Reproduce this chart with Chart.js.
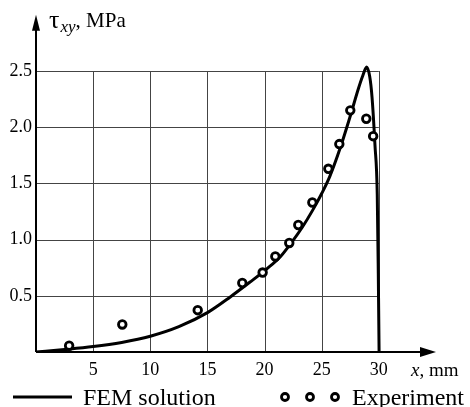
<!DOCTYPE html>
<html>
<head>
<meta charset="utf-8">
<script src="https://cdn.jsdelivr.net/npm/chart.js@4/dist/chart.umd.min.js"></script>
<style>
  html, body { margin: 0; padding: 0; background: #fff; }
  #wrap { width: 470px; height: 407px; }
</style>
</head>
<body>
<div id="wrap"><canvas id="tauChart"></canvas></div>
<script>
// FEM solution curve, x in mm, tau in MPa
const femX = [0, 2.5, 5, 7.5, 10, 12.5, 15, 17, 18.7, 20.2, 21.4, 22.4, 23.3, 24.2, 25, 25.7, 26.6, 27.5, 28.2, 28.6, 28.93, 29.2, 29.4, 29.66, 29.86, 29.95, 30.02];
const femY = [0, 0.022, 0.048, 0.085, 0.14, 0.225, 0.35, 0.49, 0.62, 0.74, 0.85, 0.98, 1.11, 1.26, 1.41, 1.56, 1.81, 2.1, 2.34, 2.46, 2.535, 2.45, 2.27, 1.84, 1.4, 0.7, 0];

// experiment points
const expX = [2.9, 7.55, 14.15, 18.05, 19.83, 20.94, 22.16, 22.95, 24.18, 25.58, 26.54, 27.5, 28.9, 29.5];
const expY = [0.056, 0.245, 0.372, 0.614, 0.707, 0.85, 0.97, 1.13, 1.33, 1.63, 1.85, 2.15, 2.075, 1.92];

// grid / tick positions
const xGridLines = [5, 10, 15, 20, 25, 30];
const yGridLines = [0.5, 1.0, 1.5, 2.0, 2.5];

const SERIF = "'Liberation Serif', 'Times New Roman', serif";
Chart.defaults.font.family = SERIF;
Chart.defaults.color = '#000';

// grid, axes with arrows, axis titles and the legend
const decorPlugin = {
    id: 'decor',
    beforeDatasetsDraw(chart) {
        const { ctx, scales: { x, y } } = chart;
        const x0 = x.getPixelForValue(0);
        const y0 = y.getPixelForValue(0);
        const xEnd = x.getPixelForValue(xGridLines[xGridLines.length - 1]);
        const yEnd = y.getPixelForValue(yGridLines[yGridLines.length - 1]);

        ctx.save();
        ctx.strokeStyle = '#444';
        ctx.lineWidth = 1;
        ctx.beginPath();
        xGridLines.forEach(v => {
            const px = Math.round(x.getPixelForValue(v)) + 0.5;
            ctx.moveTo(px, y0);
            ctx.lineTo(px, yEnd);
        });
        yGridLines.forEach(v => {
            const py = Math.round(y.getPixelForValue(v)) + 0.5;
            ctx.moveTo(x0, py);
            ctx.lineTo(xEnd, py);
        });
        ctx.stroke();

        // axes
        ctx.strokeStyle = '#000';
        ctx.fillStyle = '#000';
        ctx.lineWidth = 2;
        ctx.beginPath();
        ctx.moveTo(x0, y0);
        ctx.lineTo(x.right - 10, y0);
        ctx.moveTo(x0, y0);
        ctx.lineTo(x0, y.top + 10);
        ctx.stroke();

        // arrow heads
        ctx.beginPath();
        ctx.moveTo(x.right, y0);
        ctx.lineTo(x.right - 16, y0 - 5);
        ctx.lineTo(x.right - 16, y0 + 5);
        ctx.closePath();
        ctx.fill();
        ctx.beginPath();
        ctx.moveTo(x0, y.top);
        ctx.lineTo(x0 - 4, y.top + 16);
        ctx.lineTo(x0 + 4, y.top + 16);
        ctx.closePath();
        ctx.fill();
        ctx.restore();
    },
    afterDraw(chart) {
        const { ctx } = chart;
        ctx.save();
        ctx.fillStyle = '#000';
        ctx.textBaseline = 'alphabetic';
        ctx.textAlign = 'left';

        // y title: tau_xy, MPa
        let px = 49;
        ctx.font = '26px ' + SERIF;
        ctx.fillText('τ', px, 28);
        px += ctx.measureText('τ').width + 1;
        ctx.font = 'italic 17px ' + SERIF;
        ctx.fillText('xy', px, 32);
        px += ctx.measureText('xy').width;
        ctx.font = '21px ' + SERIF;
        ctx.fillText(', MPa', px, 27);

        // x title: x, mm
        px = 411;
        ctx.font = 'italic 19px ' + SERIF;
        ctx.fillText('x', px, 376);
        px += ctx.measureText('x').width;
        ctx.font = '19px ' + SERIF;
        ctx.fillText(', mm', px, 376);

        // legend
        ctx.strokeStyle = '#000';
        ctx.lineWidth = 3;
        ctx.beginPath();
        ctx.moveTo(13, 397);
        ctx.lineTo(72, 397);
        ctx.stroke();
        ctx.font = '24px ' + SERIF;
        ctx.fillText('FEM solution', 83, 405);

        ctx.lineWidth = 2.8;
        ctx.fillStyle = '#fff';
        [285, 310, 335].forEach(cx => {
            ctx.beginPath();
            ctx.arc(cx, 397, 3.5, 0, Math.PI * 2);
            ctx.fill();
            ctx.stroke();
        });
        ctx.fillStyle = '#000';
        ctx.fillText('Experiment', 352, 405);
        ctx.restore();
    }
};

const ctx = document.getElementById('tauChart').getContext('2d');
new Chart(ctx, {
    type: 'scatter',
    data: {
        datasets: [
            {
                label: 'Experiment',
                data: expX.map((v, i) => ({ x: v, y: expY[i] })),
                pointStyle: 'circle',
                pointRadius: 3.8,
                pointBorderWidth: 2.8,
                pointBorderColor: '#000',
                pointBackgroundColor: '#fff',
                showLine: false,
                order: 0
            },
            {
                label: 'FEM solution',
                data: femX.map((v, i) => ({ x: v, y: femY[i] })),
                showLine: true,
                borderColor: '#000',
                borderWidth: 3,
                pointRadius: 0,
                cubicInterpolationMode: 'monotone',
                order: 1
            }
        ]
    },
    options: {
        responsive: true,
        maintainAspectRatio: false,
        animation: false,
        devicePixelRatio: 1,
        layout: { padding: { left: 0, top: 12, right: 34, bottom: 0 } },
        plugins: {
            legend: { display: false },
            tooltip: { enabled: false }
        },
        scales: {
            x: {
                type: 'linear',
                min: 0,
                max: 35,
                grid: { display: false, drawTicks: false },
                border: { display: false },
                ticks: {
                    stepSize: 5,
                    padding: 7,
                    font: { size: 18 },
                    maxRotation: 0,
                    callback: v => xGridLines.includes(v) ? String(v) : ''
                },
                afterFit: s => { s.height = 55; }
            },
            y: {
                type: 'linear',
                min: 0,
                max: 3,
                grid: { display: false, drawTicks: false },
                border: { display: false },
                ticks: {
                    stepSize: 0.5,
                    padding: 4,
                    font: { size: 18 },
                    callback: v => yGridLines.includes(v) ? v.toFixed(1) : ''
                },
                afterFit: s => { s.width = 36; }
            }
        }
    },
    plugins: [decorPlugin]
});
</script>
</body>
</html>
